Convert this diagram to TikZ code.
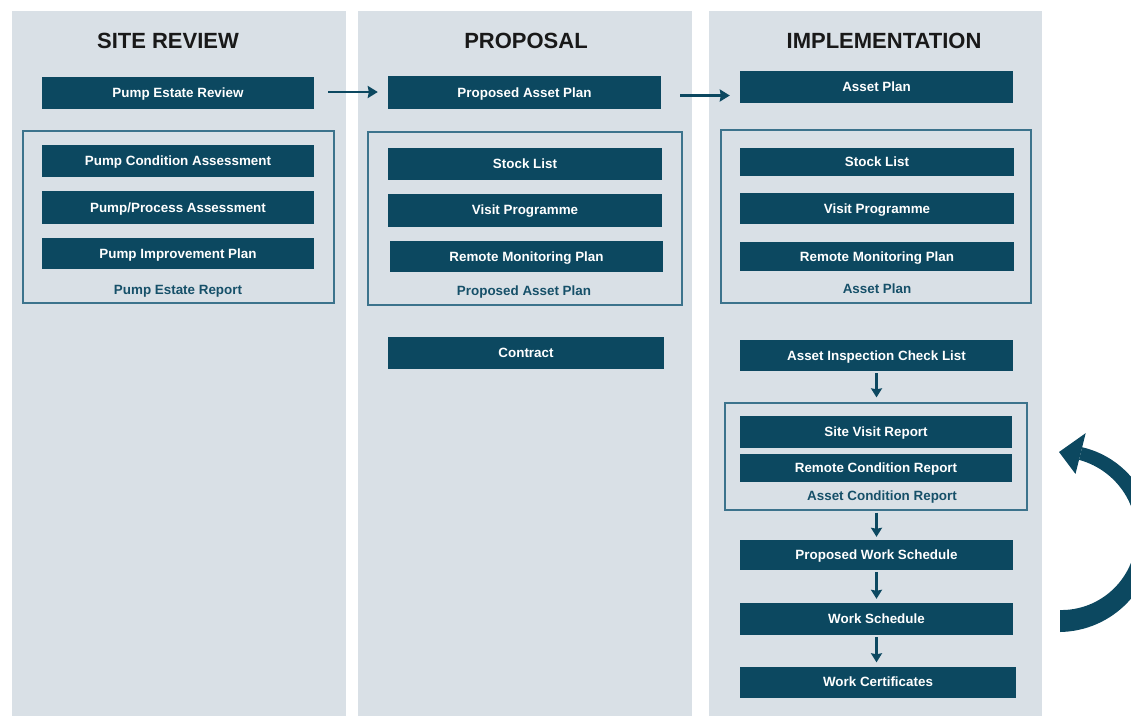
\documentclass[tikz,border=0pt]{standalone}
\usepackage{fontspec}
\setmainfont{Liberation Sans}
\usetikzlibrary{arrows.meta}
\definecolor{boxc}{RGB}{12,72,96}
\definecolor{colbg}{RGB}{217,224,230}
\definecolor{framec}{RGB}{60,115,140}
\definecolor{labc}{RGB}{22,80,105}
\tikzset{
  bx/.style={fill=boxc, text=white, font=\bfseries\fontsize{13.4}{15}\selectfont, inner sep=0pt, draw=none, text height=9.5pt, text depth=0pt},
  frm/.style={draw=framec, line width=1.3pt, fill=none, inner sep=0pt},
  lab/.style={text=labc, font=\bfseries\fontsize{13.4}{15}\selectfont, inner sep=0pt, text height=9.5pt, text depth=0pt},
  ttl/.style={text=black!90, font=\bfseries\fontsize{22}{26}\selectfont, inner sep=0pt},
  arr/.style={draw=boxc, line width=2.6pt, -{Stealth[length=10pt,width=12pt,inset=1pt]}},
  varr/.style={draw=boxc, line width=2.6pt, -{Stealth[length=9pt,width=11pt,inset=1pt]}}
}
\begin{document}
\begin{tikzpicture}[x=1pt,y=-1pt]
\useasboundingbox (0,0) rectangle (1131,716);
% columns
\fill[colbg] (12,11) rectangle (346,716);
\fill[colbg] (358,11) rectangle (692,716);
\fill[colbg] (709,11) rectangle (1042,716);
% titles
\node[ttl] (t1) at (168,41) {SITE REVIEW};
\node[ttl] (t2) at (526,41) {PROPOSAL};
\node[ttl] (t3) at (884,41) {IMPLEMENTATION};
% frames
\node[frm, minimum width=311pt, minimum height=172pt] (f1) at (178.5,217) {};
\node[frm, minimum width=314pt, minimum height=173pt] (f2) at (525,218.5) {};
\node[frm, minimum width=310pt, minimum height=173pt] (f3) at (876,216.5) {};
\node[frm, minimum width=302pt, minimum height=107pt] (f4) at (876,456.5) {};
% column 1
\node[bx, minimum width=272pt, minimum height=32pt] (per) at (178,93) {Pump Estate Review};
\node[bx, minimum width=272pt, minimum height=32pt] (pca) at (178,161) {Pump Condition Assessment};
\node[bx, minimum width=272pt, minimum height=33pt] (ppa) at (178,207.5) {Pump/Process Assessment};
\node[bx, minimum width=272pt, minimum height=31pt] (pip) at (178,253.5) {Pump Improvement Plan};
\node[lab] (l1) at (178,290) {Pump Estate Report};
% column 2
\node[bx, minimum width=273pt, minimum height=33pt] (pap) at (524.5,92.5) {Proposed Asset Plan};
\node[bx, minimum width=274pt, minimum height=32pt] (sl2) at (525,164) {Stock List};
\node[bx, minimum width=274pt, minimum height=33pt] (vp2) at (525,210) {Visit Programme};
\node[bx, minimum width=273pt, minimum height=31pt] (rmp2) at (526.5,256.5) {Remote Monitoring Plan};
\node[lab] (l2) at (524,291) {Proposed Asset Plan};
\node[bx, minimum width=276pt, minimum height=32pt] (con) at (526,353) {Contract};
% column 3
\node[bx, minimum width=273pt, minimum height=32pt] (ap) at (876.5,87) {Asset Plan};
\node[bx, minimum width=274pt, minimum height=28pt] (sl3) at (877,161.5) {Stock List};
\node[bx, minimum width=274pt, minimum height=31pt] (vp3) at (877,208.5) {Visit Programme};
\node[bx, minimum width=274pt, minimum height=29pt] (rmp3) at (877,256.5) {Remote Monitoring Plan};
\node[lab] (l3) at (877,289) {Asset Plan};
\node[bx, minimum width=273pt, minimum height=31pt] (aicl) at (876.5,355.5) {Asset Inspection Check List};
\node[bx, minimum width=272pt, minimum height=32pt] (svr) at (876,432) {Site Visit Report};
\node[bx, minimum width=272pt, minimum height=28pt] (rcr) at (876,468) {Remote Condition Report};
\node[lab] (l4) at (882,496) {Asset Condition Report};
\node[bx, minimum width=273pt, minimum height=30pt] (pws) at (876.5,555) {Proposed Work Schedule};
\node[bx, minimum width=273pt, minimum height=32pt] (ws) at (876.5,619) {Work Schedule};
\node[bx, minimum width=276pt, minimum height=31pt] (wc) at (878,682) {Work Certificates};
% horizontal arrows
\draw[arr, shorten <=14pt, shorten >=10pt] ([yshift=1pt]per.east) -- ([yshift=1pt]per.east -| pap.west);
\draw[arr, shorten <=19pt, shorten >=10pt] ([yshift=-3pt]pap.east) -- ([yshift=-3pt]pap.east -| ap.west);
% vertical arrows
\draw[varr, shorten <=2pt, shorten >=5pt] (aicl.south) -- (aicl.south |- f4.north);
\draw[varr, shorten <=2pt, shorten >=3pt] (f4.south -| pws.north) -- (pws.north);
\draw[varr, shorten <=2pt, shorten >=4pt] (pws.south) -- (ws.north);
\draw[varr, shorten <=2pt, shorten >=4pt] (ws.south) -- (ws.south |- wc.north);
% cycle arrow
\begin{scope}
\clip (0,0) rectangle (1131,716);
\fill[boxc] plot[domain=-90:76,samples=60] ({1060+(96-4.5*(\x+90)/166)*cos(\x)},{536-(96-4.5*(\x+90)/166)*sin(\x)})
  -- plot[domain=76:-90,samples=60] ({1060+(74+4.5*(\x+90)/166)*cos(\x)},{536-(74+4.5*(\x+90)/166)*sin(\x)}) -- cycle;
\coordinate (hin) at ({1060+64*cos(76)},{536-64*sin(76)});
\coordinate (hout) at ({1060+106*cos(76)},{536-106*sin(76)});
\coordinate (htip) at (1059,452);
\fill[boxc] (hin) -- (hout) -- (htip) -- cycle;
\end{scope}
\end{tikzpicture}
\end{document}
